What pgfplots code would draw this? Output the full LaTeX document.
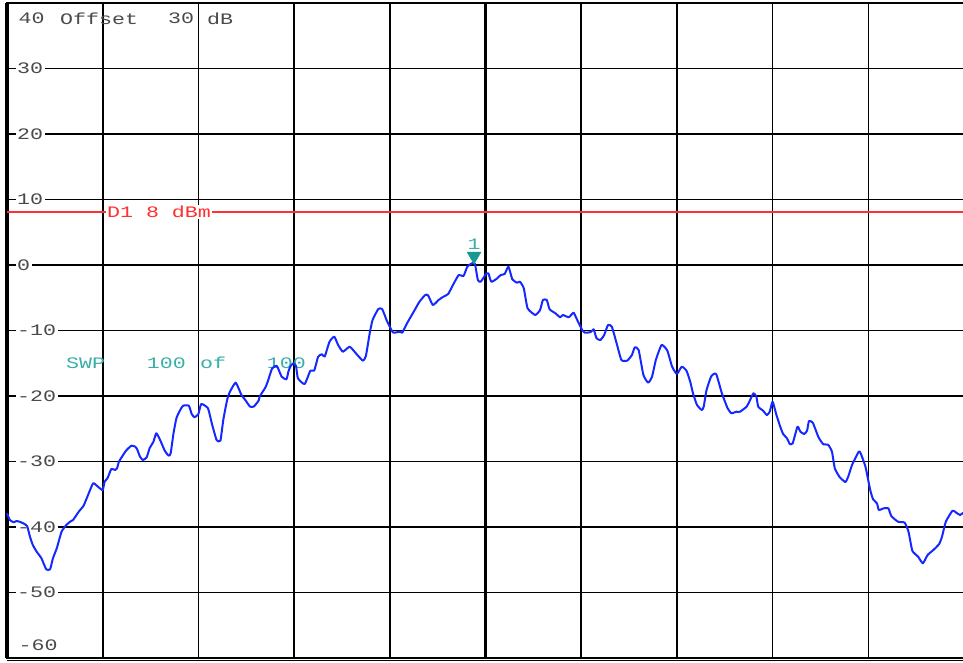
\documentclass[border=0pt]{standalone}
\usepackage{fontspec}
\usepackage{pgfplots}
\pgfplotsset{compat=1.18}
\newfontfamily\lab[FakeStretch=1.35]{Liberation Mono}
\definecolor{trace}{HTML}{1428FF}
\definecolor{teal}{HTML}{3AAFA9}
\definecolor{mark}{HTML}{1A9990}
\definecolor{dline}{HTML}{FF3030}
\definecolor{txt}{HTML}{4A4A4A}
\tikzset{lbl/.style={font=\lab\fontsize{16}{16}\selectfont, text=txt, inner sep=1.5pt, text depth=0pt}}

\begin{document}
\begin{tikzpicture}
\begin{axis}[
    width=957pt, height=655pt,
    scale only axis,
    xmin=0, xmax=10,
    ymin=-60, ymax=40,
    xtick={0,...,10},
    ytick={-60,-50,...,40},
    xticklabels={}, yticklabels={},
    major tick length=0pt,
    grid=major,
    grid style={black, line width=1.6pt},
    extra x ticks={5},
    extra x tick labels={},
    extra x tick style={grid style={black, line width=3.6pt}},
    axis line style={black, line width=2pt},
    clip=false,
]
% frame extras
\draw[black, line width=3.5pt] (rel axis cs:0,0) -- (rel axis cs:0,1);
\draw[black, line width=1.2pt] ([yshift=-2.8pt]rel axis cs:0,0) -- ([yshift=-2.8pt]rel axis cs:1,0);

% display line D1
\addplot[dline, line width=1.4pt] coordinates {(0,8.09) (10,8.09)};
\node[lbl, text=dline, fill=white, anchor=west, inner sep=1pt] at (axis cs:1.034,8.09) {D1 8 dBm};

% level labels
\pgfplotsinvokeforeach{30,20,10,0,-10,-20,-30,-40,-50}{
  \node[lbl, fill=white, anchor=west, xshift=8.5pt] at (axis cs:0,#1) {#1};
}
\node[lbl, anchor=west, xshift=10pt] at (axis cs:0,-58.02) {-60};
\node[lbl, anchor=west, xshift=10pt] at (axis cs:0,37.63) {40};
\node[lbl, anchor=west, inner sep=0pt] at (axis cs:0.554,37.63) {Offset};
\node[lbl, anchor=west, inner sep=0pt] at (axis cs:1.682,37.63) {30};
\node[lbl, anchor=west, inner sep=0pt] at (axis cs:2.090,37.63) {dB};

% sweep counter
\node[lbl, text=teal, anchor=west, inner sep=0pt] at (axis cs:0.617,-14.96) {SWP};
\node[lbl, text=teal, anchor=west, inner sep=0pt] at (axis cs:1.460,-14.96) {100};
\node[lbl, text=teal, anchor=west, inner sep=0pt] at (axis cs:2.017,-14.96) {of};
\node[lbl, text=teal, anchor=west, inner sep=0pt] at (axis cs:2.714,-14.96) {100};

% trace
\addplot[trace, line width=2pt, line join=round, smooth, tension=0.3] coordinates {
(0.00,-37.91)(0.03,-38.93)(0.07,-39.28)(0.10,-39.08)(0.14,-39.24)(0.17,-39.44)
(0.21,-39.85)(0.24,-41.48)(0.27,-42.75)(0.31,-43.77)(0.36,-44.78)(0.41,-46.46)
(0.45,-46.46)(0.48,-44.78)(0.52,-43.25)(0.57,-40.72)(0.62,-39.69)(0.66,-39.19)
(0.69,-38.93)(0.75,-37.66)(0.80,-36.75)(0.84,-35.37)(0.90,-33.33)(0.95,-33.85)
(1.00,-34.35)(1.02,-33.08)(1.05,-32.56)(1.09,-31.15)(1.13,-31.30)(1.15,-31.04)
(1.17,-30.03)(1.22,-28.85)(1.25,-28.24)(1.30,-27.59)(1.34,-27.74)(1.36,-28.14)
(1.39,-29.27)(1.42,-29.77)(1.46,-29.36)(1.49,-27.98)(1.53,-26.98)(1.56,-25.69)
(1.60,-26.72)(1.65,-28.40)(1.69,-29.11)(1.71,-28.75)(1.74,-25.69)(1.77,-23.40)
(1.81,-22.14)(1.84,-21.48)(1.90,-21.48)(1.93,-22.75)(1.96,-23.25)(2.00,-22.75)
(2.03,-21.22)(2.10,-21.88)(2.14,-24.17)(2.19,-26.72)(2.23,-26.82)(2.26,-23.66)
(2.30,-20.61)(2.33,-19.34)(2.39,-17.97)(2.45,-19.85)(2.49,-20.61)(2.54,-21.63)
(2.58,-21.60)(2.63,-20.69)(2.64,-20.08)(2.70,-18.70)(2.73,-17.56)(2.77,-15.80)
(2.82,-15.42)(2.87,-17.05)(2.92,-17.45)(2.94,-16.29)(2.96,-15.53)(2.99,-15.01)
(3.02,-15.42)(3.04,-17.30)(3.11,-18.17)(3.17,-16.14)(3.21,-16.14)(3.25,-14.05)
(3.29,-13.62)(3.32,-13.97)(3.37,-11.71)(3.42,-10.95)(3.46,-12.21)(3.51,-13.24)
(3.58,-12.47)(3.64,-13.39)(3.67,-13.89)(3.72,-14.61)(3.75,-13.89)(3.79,-10.43)
(3.82,-8.40)(3.88,-6.72)(3.92,-6.72)(3.97,-8.55)(4.02,-10.00)(4.04,-10.34)
(4.11,-10.18)(4.13,-10.34)(4.18,-8.90)(4.25,-7.13)(4.31,-5.60)(4.37,-4.58)
(4.40,-4.63)(4.45,-6.11)(4.51,-5.34)(4.56,-4.84)(4.61,-4.43)(4.66,-3.05)
(4.72,-1.53)(4.77,-1.68)(4.81,-0.26)(4.86,0.26)(4.89,0.15)(4.92,-2.29)
(4.95,-2.55)(5.01,-1.27)(5.03,-1.27)(5.06,-2.55)(5.11,-2.18)(5.16,-1.53)
(5.20,-1.37)(5.24,-0.26)(5.28,-2.18)(5.33,-2.70)(5.36,-2.55)(5.40,-3.56)
(5.44,-6.61)(5.52,-7.63)(5.57,-6.87)(5.60,-5.34)(5.64,-5.34)(5.67,-6.76)
(5.73,-7.37)(5.78,-7.98)(5.81,-7.63)(5.87,-7.98)(5.92,-7.28)(5.95,-8.14)
(6.01,-9.92)(6.04,-10.34)(6.10,-10.23)(6.13,-9.82)(6.16,-11.19)(6.20,-11.45)
(6.24,-10.69)(6.28,-9.16)(6.32,-9.42)(6.37,-11.95)(6.42,-14.50)(6.48,-14.61)
(6.53,-13.74)(6.56,-12.56)(6.60,-12.98)(6.65,-16.79)(6.70,-17.97)(6.74,-17.05)
(6.78,-14.50)(6.84,-12.21)(6.90,-13.08)(6.95,-15.53)(7.00,-16.64)(7.05,-15.53)
(7.10,-16.14)(7.14,-17.86)(7.17,-19.69)(7.21,-21.37)(7.26,-22.14)(7.28,-21.63)
(7.31,-19.08)(7.36,-16.95)(7.41,-16.64)(7.47,-19.59)(7.53,-21.88)(7.57,-22.64)
(7.62,-22.40)(7.66,-22.40)(7.73,-21.60)(7.76,-20.76)(7.80,-19.59)(7.83,-20.08)
(7.85,-21.63)(7.90,-22.24)(7.94,-22.90)(7.97,-22.40)(8.00,-20.87)(8.04,-22.90)
(8.08,-24.69)(8.11,-25.80)(8.15,-26.46)(8.18,-27.33)(8.21,-27.22)(8.26,-24.69)
(8.29,-25.45)(8.33,-25.80)(8.36,-25.30)(8.38,-23.82)(8.42,-24.08)(8.48,-26.31)
(8.53,-27.37)(8.58,-27.44)(8.62,-28.50)(8.65,-31.04)(8.70,-32.37)(8.76,-33.13)
(8.79,-32.32)(8.83,-30.53)(8.90,-28.50)(8.92,-28.75)(8.97,-30.79)(9.02,-34.35)
(9.05,-35.77)(9.09,-36.38)(9.11,-37.40)(9.16,-37.15)(9.21,-37.15)(9.24,-38.32)
(9.31,-39.19)(9.38,-39.34)(9.42,-40.72)(9.46,-43.62)(9.52,-44.53)(9.57,-45.54)
(9.62,-44.27)(9.68,-43.51)(9.74,-42.60)(9.77,-41.48)(9.81,-39.19)(9.88,-37.51)
(9.92,-37.82)(9.96,-38.17)(9.99,-37.82)
};

% marker 1
\addplot[only marks, mark=triangle*, mark size=8pt, color=mark,
  mark options={rotate=180}] coordinates {(4.88,1.35)};
\node[lbl, text=teal, anchor=south, inner sep=0pt, yshift=6.5pt] at (axis cs:4.88,1.35) {1};
\end{axis}
\pgfresetboundingbox
\path[use as bounding box] (-7pt,-5pt) rectangle (956pt,658pt);
\end{tikzpicture}
\end{document}
